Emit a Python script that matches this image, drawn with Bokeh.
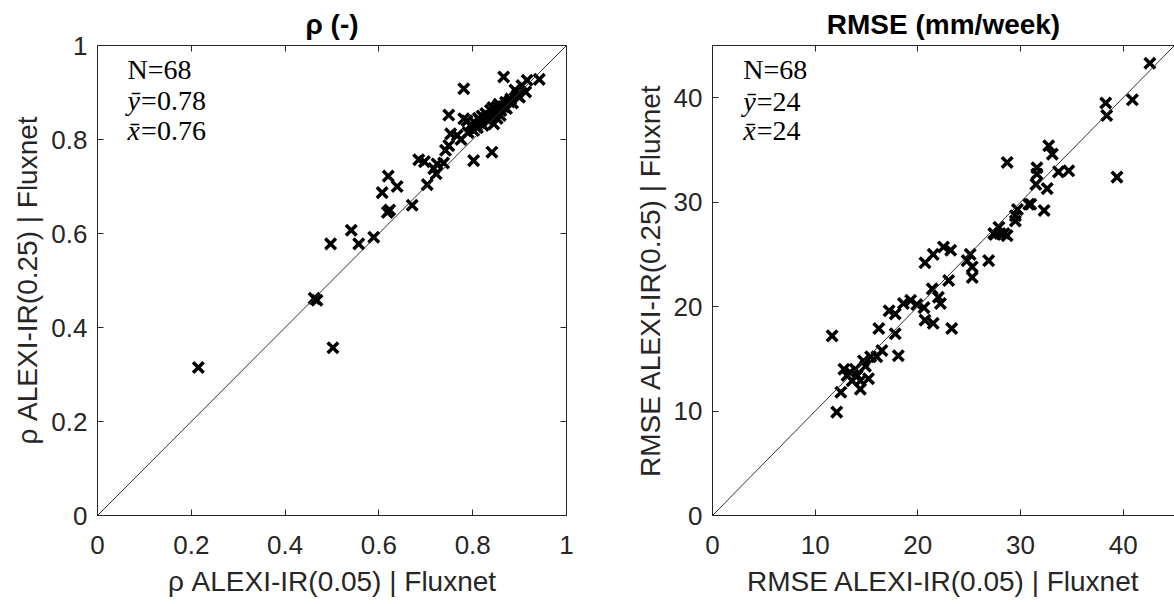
from bokeh.plotting import figure
from bokeh.layouts import row
from bokeh.models import (Label, Slope, LinearAxis, FixedTicker, Range1d,
                          CustomJSTickFormatter)
from bokeh.embed import file_html
from bokeh.resources import INLINE

# ---------------- data ----------------
rho_x = [0.215, 0.462, 0.468, 0.502, 0.497, 0.541, 0.557, 0.589, 0.607, 0.618,
         0.623, 0.620, 0.639, 0.671, 0.685, 0.697, 0.703, 0.717, 0.722, 0.724,
         0.738, 0.742, 0.749, 0.753, 0.749, 0.781, 0.781, 0.802, 0.841, 0.866,
         0.916, 0.942, 0.913, 0.895, 0.881, 0.870, 0.767, 0.788, 0.802, 0.817,
         0.831, 0.838, 0.845, 0.852, 0.859, 0.775, 0.790, 0.795, 0.805, 0.810,
         0.812, 0.820, 0.822, 0.828, 0.833, 0.840, 0.843, 0.848, 0.852, 0.856,
         0.860, 0.865, 0.872, 0.878, 0.885, 0.890, 0.900, 0.905]
rho_y = [0.315, 0.462, 0.458, 0.357, 0.578, 0.607, 0.578, 0.592, 0.687, 0.645,
         0.650, 0.722, 0.700, 0.660, 0.757, 0.753, 0.704, 0.738, 0.727, 0.748,
         0.750, 0.777, 0.787, 0.812, 0.852, 0.908, 0.844, 0.755, 0.773, 0.933,
         0.926, 0.928, 0.901, 0.894, 0.886, 0.879, 0.809, 0.840, 0.819, 0.837,
         0.847, 0.862, 0.833, 0.869, 0.851, 0.800, 0.815, 0.830, 0.835, 0.825,
         0.845, 0.850, 0.830, 0.855, 0.840, 0.850, 0.868, 0.855, 0.845, 0.875,
         0.862, 0.870, 0.866, 0.880, 0.878, 0.905, 0.890, 0.915]

rmse_x = [11.65, 12.1, 12.5, 12.8, 13.1, 13.4, 13.6, 13.9, 14.1, 14.4,
          14.4, 14.7, 14.9, 15.2, 15.4, 16.0, 16.5, 16.2, 17.2, 17.8,
          17.8, 18.1, 18.6, 19.3, 19.9, 20.6, 20.7, 21.5, 21.4, 22.0,
          22.2, 22.5, 23.0, 23.2, 24.8, 25.1, 25.3, 25.3, 26.9, 27.4,
          27.9, 28.0, 28.7, 27.5, 28.4, 29.5, 29.5, 29.7, 30.8, 31.0,
          32.3, 31.5, 32.6, 31.6, 31.6, 33.7, 34.7, 28.7, 32.75, 33.1,
          38.3, 38.4, 39.4, 40.9, 42.6, 20.7, 21.5, 23.3]
rmse_y = [17.2, 9.9, 11.8, 14.0, 13.4, 13.7, 12.9, 14.0, 13.4, 12.1,
          12.9, 14.8, 14.3, 13.1, 15.2, 15.2, 15.8, 17.9, 19.6, 19.3,
          17.4, 15.3, 20.3, 20.6, 20.2, 19.9, 24.2, 25.0, 21.7, 20.9,
          20.3, 25.7, 22.5, 25.4, 24.4, 25.0, 23.8, 22.8, 24.4, 27.0,
          27.6, 27.0, 26.8, 26.9, 27.0, 28.2, 28.7, 29.3, 29.8, 29.8,
          29.2, 31.7, 31.3, 32.7, 33.3, 32.9, 33.0, 33.8, 35.4, 34.6,
          39.5, 38.3, 32.4, 39.8, 43.3, 18.7, 18.4, 17.9]

rho_ticks = [0, 0.2, 0.4, 0.6, 0.8, 1]
rho_tick_labels = ["0", "0.2", "0.4", "0.6", "0.8", "1"]
rmse_ticks = [0, 10, 20, 30, 40]
rmse_tick_labels = ["0", "10", "20", "30", "40"]

rho_stats = ["N=68", "0.78", "0.76"]
rmse_stats = ["N=68", "24", "24"]

# ---------------- style ----------------
AX = "#262626"
SANS = "Liberation Sans"
SERIF = "Liberation Serif"
TICK_FS = "26px"
LAB_FS = "28px"
STAT_FS = "28px"


def style_axis(ax, ticks, labels, show_labels=True):
    ax.ticker = FixedTicker(ticks=ticks)
    ax.axis_line_color = AX
    ax.axis_line_width = 1
    ax.major_tick_line_color = AX
    ax.major_tick_in = 6
    ax.major_tick_out = 0
    ax.minor_tick_line_color = None
    if show_labels:
        ax.major_label_overrides = {t: l for t, l in zip(ticks, labels)}
        ax.major_label_text_font = SANS
        ax.major_label_text_font_size = TICK_FS
        ax.major_label_text_color = AX
    else:
        ax.formatter = CustomJSTickFormatter(code="return ''")
        ax.major_label_text_font_size = "0px"
        ax.major_label_standoff = 0


def make_fig(xr, yr, fw, fh, left, right, xlabel, ylabel, ticks, labels, right_axis, title):
    p = figure(output_backend="svg", toolbar_location=None,
               frame_width=fw, frame_height=fh,
               x_range=Range1d(*xr), y_range=Range1d(*yr),
               min_border_left=left, min_border_right=right,
               min_border_top=45, min_border_bottom=88,
               x_axis_label=xlabel, y_axis_label=ylabel, title=title)
    p.title.align = "center"
    p.title.text_font = SANS
    p.title.text_font_size = "28px"
    p.title.text_font_style = "bold"
    p.title.text_color = "black"
    p.title.text_line_height = 0.7
    p.title.standoff = 12
    p.grid.visible = False
    p.outline_line_color = None
    p.background_fill_color = "white"
    p.border_fill_color = "white"
    for ax in p.xaxis + p.yaxis:
        style_axis(ax, ticks, labels)
        ax.axis_label_text_font = SANS
        ax.axis_label_text_font_size = LAB_FS
        ax.axis_label_text_font_style = "normal"
        ax.axis_label_text_color = AX
    p.xaxis.major_label_standoff = 20
    p.yaxis.major_label_standoff = 10
    p.xaxis.axis_label_standoff = 9
    p.yaxis.axis_label_standoff = 5
    top = LinearAxis()
    style_axis(top, ticks, labels, show_labels=False)
    p.add_layout(top, "above")
    if right_axis:
        r = LinearAxis()
        style_axis(r, ticks, labels, show_labels=False)
        p.add_layout(r, "right")
    p.add_layout(Slope(gradient=1, y_intercept=0, line_color="#303030", line_width=1))
    return p


def add_stats(p, x0, x1, ys, stats):
    p.add_layout(Label(x=x0, y=ys[0], text=stats[0], text_font=SERIF,
                       text_font_size=STAT_FS, text_color="black"))
    p.add_layout(Label(x=x0, y=ys[1], text="ȳ", text_font=SERIF,
                       text_font_style="italic", text_font_size=STAT_FS, text_color="black"))
    p.add_layout(Label(x=x1, y=ys[1], text="=" + stats[1], text_font=SERIF,
                       text_font_size=STAT_FS, text_color="black"))
    p.add_layout(Label(x=x0, y=ys[2], text="x\u0304", text_font=SERIF,
                       text_font_style="italic", text_font_size=STAT_FS, text_color="black"))
    p.add_layout(Label(x=x1, y=ys[2], text="=" + stats[2], text_font=SERIF,
                       text_font_size=STAT_FS, text_color="black"))


# ---------------- left: rho ----------------
p1 = make_fig((0, 1), (0, 1), 469, 470, 97, 34,
              "ρ ALEXI-IR(0.05) | Fluxnet", "ρ ALEXI-IR(0.25) | Fluxnet",
              rho_ticks, rho_tick_labels, True, "ρ (-)")
p1.scatter(rho_x, rho_y, marker="x", size=15, line_width=3.5, line_color="black")
add_stats(p1, 0.064, 0.093, [0.915, 0.85, 0.786], rho_stats)

# ---------------- right: RMSE ----------------
p2 = make_fig((0, 45), (0, 45), 462, 470, 112, 0,
              "RMSE ALEXI-IR(0.05) | Fluxnet", "RMSE ALEXI-IR(0.25) | Fluxnet",
              rmse_ticks, rmse_tick_labels, False, "RMSE (mm/week)")
p2.scatter(rmse_x, rmse_y, marker="x", size=15, line_width=3.5, line_color="black")
add_stats(p2, 3.0, 4.3, [41.2, 38.2, 35.4], rmse_stats)

layout = row(p1, p2)
open("out.html", "w").write(file_html(layout, INLINE))
